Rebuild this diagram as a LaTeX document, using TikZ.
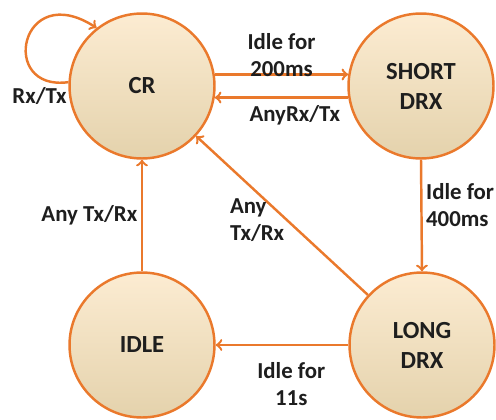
\documentclass[tikz,border=0pt]{standalone}
\usepackage{fontspec}
\setmainfont{Carlito}
\usepackage{tikz}
\usetikzlibrary{arrows}
\usetikzlibrary{calc}

\definecolor{rrcorange}{RGB}{234,121,44}
\definecolor{statetop}{RGB}{252,236,210}
\definecolor{statebottom}{RGB}{228,210,172}
\definecolor{labeltext}{RGB}{30,30,30}

\begin{document}
\begin{tikzpicture}[ x=0.02cm, y=-0.02cm,
      state/.style={ circle, draw=rrcorange, line width=1.4pt, minimum size=2.9cm,
                     top color=statetop, bottom color=statebottom, align=center,
                     inner sep=0pt, text=labeltext, font=\fontsize{14}{17}\selectfont\bfseries},
      trans/.style={ ->, >=to, rrcorange, line width=1.4pt},
      lbl/.style={ text=labeltext, font=\fontsize{13}{15.4}\selectfont\bfseries, inner sep=2pt}
      ]
      \useasboundingbox (0,0) rectangle (496,419);

      % states
      \node[state] (CR)    at (142,86)  {CR};
      \node[state] (Short) at (421,86)  {SHORT\\DRX};
      \node[state] (Idle)  at (142,345) {IDLE};
      \node[state] (Long)  at (422,345) {LONG\\DRX};

      % self loop
      \draw[trans] (CR.177) .. controls (-2,92) and (20,-22) .. (CR.128)
            node[lbl, pos=0.02, below left, xshift=4pt] {Rx/Tx};

      % transitions
      \draw[trans] (CR.9) -- (Short.171)
            node[lbl, midway, above, align=center, yshift=-4pt] {Idle for\\200ms};
      \draw[trans] (Short.189) -- (CR.351)
            node[lbl, pos=0.4, below, yshift=-2pt] {AnyRx/Tx};
      \draw[trans] (Short.south) -- (Long.north)
            node[lbl, pos=0.41, right, align=left] {Idle for\\400ms};
      \draw[trans] (Long.west) -- (Idle.east)
            node[lbl, pos=0.43, below, align=center, yshift=-7pt] {Idle for\\11s};
      \draw[trans] (Idle.north) -- (CR.south)
            node[lbl, midway, left] {Any Tx/Rx};
      \draw[trans] (Long) -- (CR)
            node[lbl, pos=0.47, left, align=left, xshift=1pt] {Any\\Tx/Rx};
    \end{tikzpicture}
\end{document}
